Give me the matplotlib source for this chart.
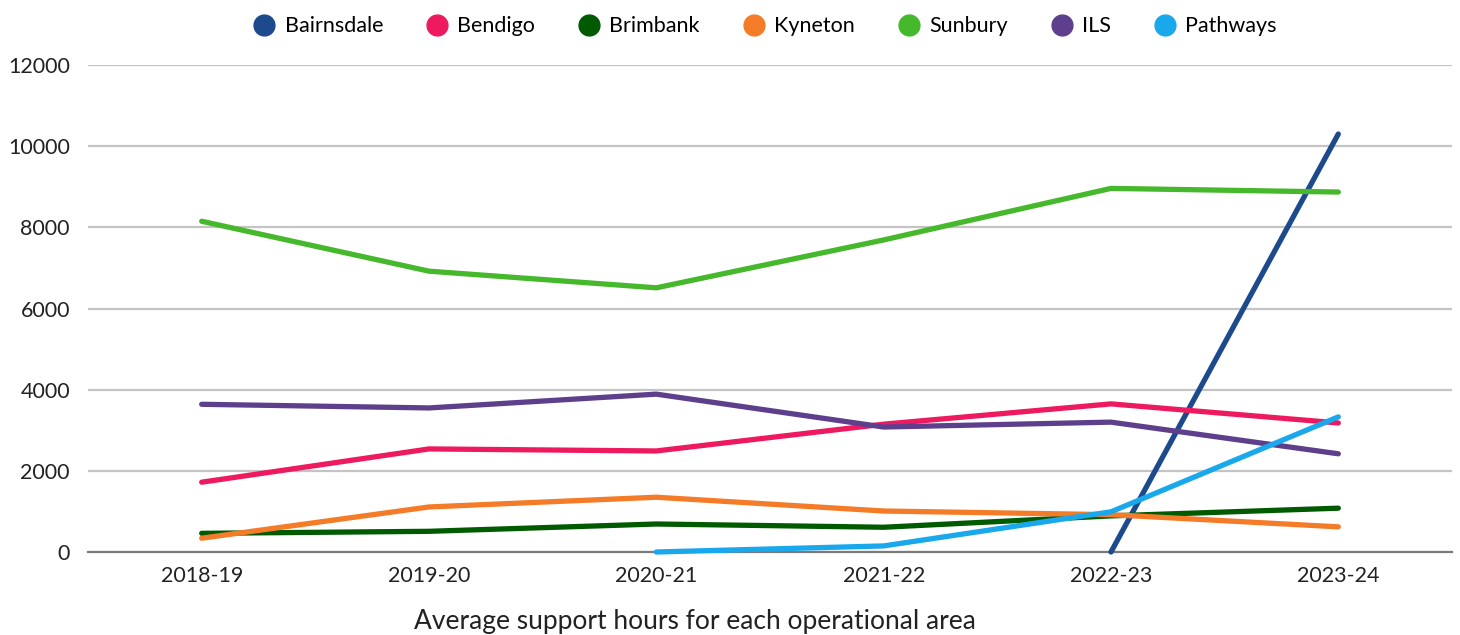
import matplotlib.pyplot as plt
from matplotlib.lines import Line2D
import numpy as np

plt.rcParams['font.family'] = ['Lato', 'DejaVu Sans']

years = ['2018-19', '2019-20', '2020-21', '2021-22', '2022-23', '2023-24']

# average support hours per area (None = no service that year)
bairnsdale = [None, None, None, None, 0, 10300]
bendigo = [1720, 2540, 2490, 3150, 3650, 3180]
brimbank = [460, 510, 690, 610, 890, 1080]
kyneton = [340, 1110, 1350, 1010, 920, 620]
sunbury = [8150, 6920, 6510, 7690, 8960, 8870]
ils = [3640, 3550, 3890, 3080, 3200, 2420]
pathways = [None, None, 0, 150, 990, 3330]

series = [
    ('Bairnsdale', bairnsdale, '#1c4a8c'),
    ('Bendigo', bendigo, '#ee1a60'),
    ('Brimbank', brimbank, '#005a00'),
    ('Kyneton', kyneton, '#f47c28'),
    ('Sunbury', sunbury, '#46b82c'),
    ('ILS', ils, '#5e3f8c'),
    ('Pathways', pathways, '#1aa8ec'),
]

fig = plt.figure(figsize=(14.6, 6.35), dpi=100)
ax = fig.add_axes([0.0603, 0.1307, 0.9342, 0.7669])

x = np.arange(len(years))
handles = []
for name, vals, color in series:
    y = np.array([np.nan if v is None else v for v in vals], dtype=float)
    ax.plot(x, y, color=color, linewidth=3.8, solid_capstyle='round',
            solid_joinstyle='round', clip_on=False, zorder=3)
    handles.append(Line2D([], [], linestyle='none', marker='o', markersize=15,
                          markerfacecolor=color, markeredgecolor=color, label=name))

ax.set_xlim(-0.5, 5.5)
ax.set_ylim(0, 12000)
ax.set_yticks(np.arange(0, 12001, 2000))
ax.set_xticks(x)
ax.set_xticklabels(years)

ax.grid(axis='y', color='#c4c4c4', linewidth=1.6)
ax.set_axisbelow(True)
for side in ['top', 'right', 'left']:
    ax.spines[side].set_visible(False)
ax.spines['bottom'].set_color('#7a7a7a')
ax.spines['bottom'].set_linewidth(1.6)
ax.spines['bottom'].set_zorder(2)

ax.tick_params(axis='both', length=0, labelsize=15.5, colors='#222222')
ax.tick_params(axis='y', pad=13)
ax.tick_params(axis='x', pad=10)

fig.legend(handles=handles, loc='upper center', bbox_to_anchor=(0.524, 1.005),
           ncol=7, frameon=False, fontsize=15.5, handlelength=1.0,
           handletextpad=0.45, columnspacing=2.0)

fig.text(0.476, 0.022, 'Average support hours for each operational area',
         ha='center', va='center', fontsize=19, color='#222222')

fig.savefig('out.png', dpi=100)
